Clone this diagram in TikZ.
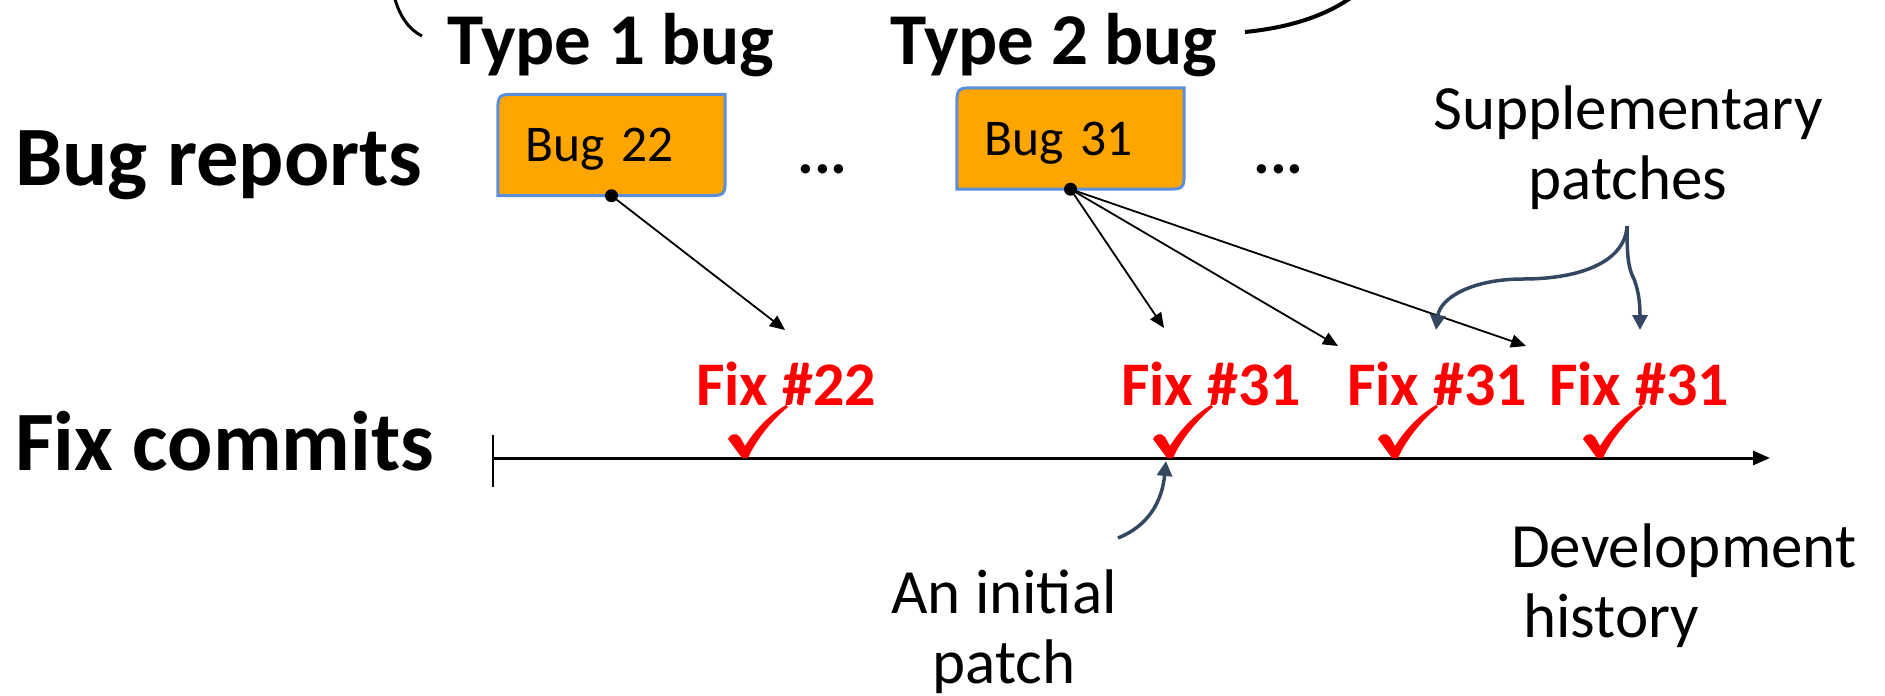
\documentclass[tikz,border=0pt]{standalone}
\usepackage{fontspec}
\setmainfont{Carlito}
\usetikzlibrary{arrows.meta,backgrounds}
\definecolor{boxorange}{RGB}{255,165,0}
\definecolor{boxblue}{RGB}{91,142,219}
\definecolor{slate}{RGB}{52,71,97}
\begin{document}
\begin{tikzpicture}[x=1pt,y=-1pt,
  lbl/.style={inner sep=0pt, font=\bfseries\fontsize{84.5}{100}\selectfont},
  typelbl/.style={inner sep=0pt, font=\bfseries\fontsize{73}{88}\selectfont},
  bugbox/.style={inner xsep=27pt, inner ysep=0pt, text width=173pt, align=left,
    minimum height=101pt, text depth=0pt, font=\fontsize{51.5}{62}\selectfont},
  boxshape/.style={fill=boxorange, draw=boxblue, line width=3pt},
  fixlbl/.style={inner sep=0pt, text=red, font=\bfseries\fontsize{62}{74}\selectfont},
  note/.style={inner sep=0pt, font=\fontsize{63}{70}\selectfont},
  link/.style={line width=1.8pt, -{Triangle[length=15pt,width=13pt]}},
  curly/.style={draw=slate, line width=3.5pt, -{Triangle[length=15pt,width=15pt]}},
  dotnode/.style={circle, fill=black, inner sep=0pt, minimum size=13pt},
  chk/.pic={\fill[red] (0,0) -- (-14,-19) .. controls (-12,-24) and (-6,-26) .. (-2,-21)
     -- (3,-12) .. controls (14,-30) and (30,-45) .. (44,-53) -- (46,-51)
     .. controls (30,-38) and (14,-18) .. (6,0) -- cycle;}
]
\useasboundingbox (0,0) rectangle (1885,696);
\clip (0,0) rectangle (1885,696);

% row labels
\node[lbl, anchor=base west] (br) at (15,185) {Bug reports};
\node[lbl, anchor=base west] (fc) at (15,470) {Fix commits};

% type labels and partial curves
\node[typelbl, anchor=base west] (t1) at (447,64) {Type 1 bug};
\node[typelbl, anchor=base west] (t2) at (890,64) {Type 2 bug};
\draw[line width=3pt] (394,-4) .. controls (400,18) and (410,30) .. (422,36);
\draw[line width=4pt] (1245,32) .. controls (1285,28) and (1322,18) .. (1352,-3);

% bug boxes
\node[bugbox] (b22) at (611.5,145) {Bug 22};
\node[bugbox] (b31) at (1070.5,138.5) {Bug 31};
\begin{scope}[on background layer]
  \foreach \b in {b22,b31}{
    \draw[boxshape] (\b.north east) -- ([yshift=20pt]\b.south east)
      .. controls (\b.south east) .. ([xshift=-20pt]\b.south east)
      -- (\b.south west) -- ([yshift=-20pt]\b.north west)
      .. controls (\b.north west) .. ([xshift=20pt]\b.north west) -- cycle;
  }
\end{scope}
\node[dotnode] (d22) at (b22.south) {};
\node[dotnode] (d31) at (b31.south) {};

% ellipses
\node[note, font=\bfseries\fontsize{63}{70}\selectfont, anchor=base west] (e1) at (797,173) {...};
\node[note, font=\bfseries\fontsize{63}{70}\selectfont, anchor=base west] (e2) at (1253,173) {...};

% fix labels
\node[fixlbl, anchor=base] (f22) at (786,405) {Fix \#22};
\node[fixlbl, anchor=base] (f31a) at (1211,405) {Fix \#31};
\node[fixlbl, anchor=base] (f31b) at (1437,405) {Fix \#31};
\node[fixlbl, anchor=base] (f31c) at (1639,405) {Fix \#31};

% arrows from bug reports
\coordinate (a22) at (785,330);
\coordinate (a31a) at (1164,328);
\coordinate (a31b) at (1338,346);
\coordinate (a31c) at (1526,346);
\draw[link] (d22.center) -- (a22);
\draw[link] (d31.center) -- (a31a);
\draw[link] (d31.center) -- (a31b);
\draw[link] (d31.center) -- (a31c);

% timeline
\coordinate (tl0) at (493,458);
\coordinate (tl1) at (1770,458);
\coordinate (tk0) at (493,435);
\coordinate (tk1) at (493,487);
\draw[line width=3pt, -{Triangle[length=17pt,width=14pt]}] (tl0) -- (tl1);
\draw[line width=2pt] (tk0) -- (tk1);

% check marks
\pic at (742,458) {chk};
\pic at (1167,458) {chk};
\pic at (1392,458) {chk};
\pic at (1597,458) {chk};

% notes (base anchor = baseline of last line)
\node[note, align=center, anchor=base] (sup) at (1628,199) {Supplementary\\patches};
\node[note, align=center, anchor=base] (ini) at (1004,683) {An initial\\patch};
\node[note, align=left, anchor=base west] (dev) at (1511,637) {Development\\\hspace*{12pt}history};

% curly arrows
\coordinate (sp) at (1627,226);
\coordinate (spl) at (1436,330);
\coordinate (spr) at (1640,330);
\draw[curly] (sp) .. controls (1625,262) and (1580,279) .. (1523,279)
  .. controls (1472,279) and (1440,298) .. (spl);
\draw[curly] (sp) .. controls (1627,255) and (1628,268) .. (1634,279)
  .. controls (1639,292) and (1640,305) .. (spr);
\coordinate (ipt) at (1118,538);
\coordinate (ipa) at (1166,461);
\draw[curly] (ipt) .. controls (1148,526) and (1162,502) .. (ipa);
\end{tikzpicture}
\end{document}
